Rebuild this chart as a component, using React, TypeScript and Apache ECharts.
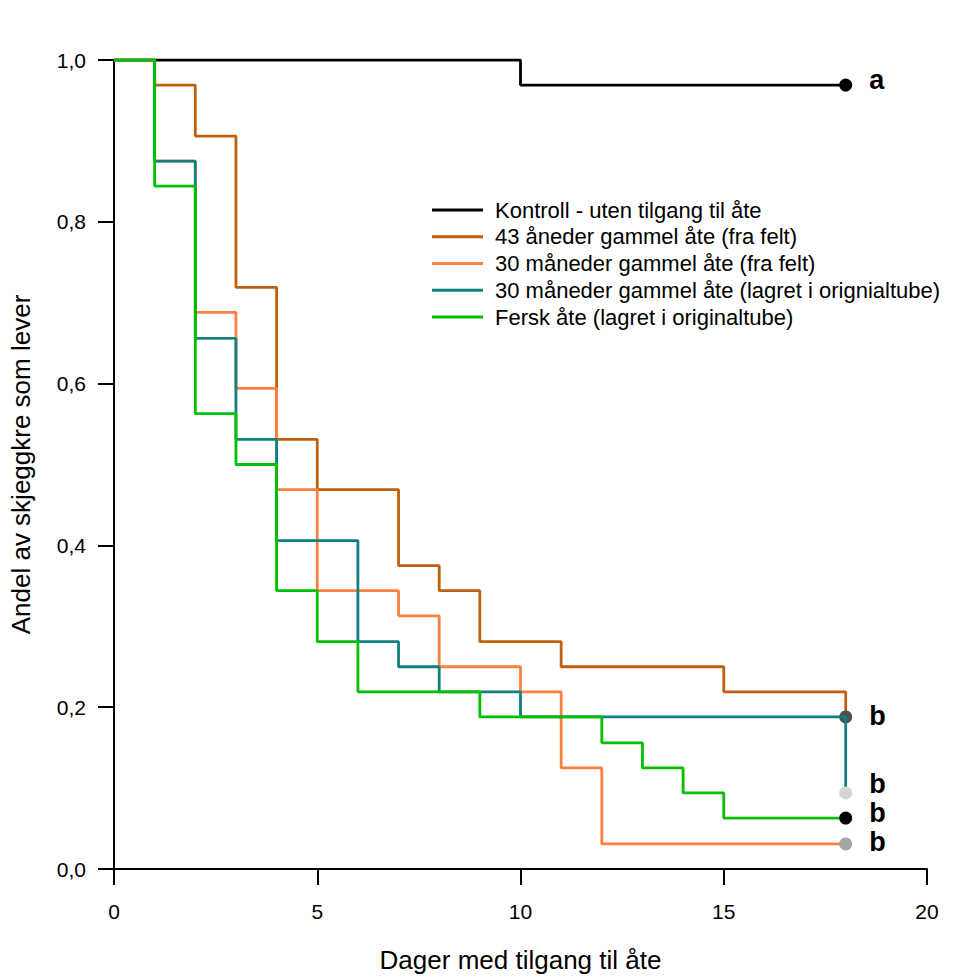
import React, { useEffect, useRef } from "react";
import * as echarts from "echarts";

// ---- data ----
const seriesNames = [
  "Kontroll - uten tilgang til åte",
  "43 åneder gammel åte (fra felt)",
  "30 måneder gammel åte (fra felt)",
  "30 måneder gammel åte (lagret i orignialtube)",
  "Fersk åte (lagret i originaltube)",
];

const controlDays = [0, 10, 18];
const controlSurv = [1.0, 0.969, 0.969];

const field43Days = [0, 1, 2, 3, 4, 5, 7, 8, 9, 11, 15, 18];
const field43Surv = [1.0, 0.969, 0.906, 0.719, 0.531, 0.469, 0.375, 0.344, 0.281, 0.25, 0.219, 0.188];

const field30Days = [0, 1, 2, 3, 4, 5, 7, 8, 10, 11, 12, 18];
const field30Surv = [1.0, 0.875, 0.688, 0.594, 0.469, 0.344, 0.313, 0.25, 0.219, 0.125, 0.031, 0.031];

const tube30Days = [0, 1, 2, 3, 4, 6, 7, 8, 10, 18];
const tube30Surv = [1.0, 0.875, 0.656, 0.531, 0.406, 0.281, 0.25, 0.219, 0.188, 0.094];

const freshDays = [0, 1, 2, 3, 4, 5, 6, 9, 12, 13, 14, 15, 18];
const freshSurv = [1.0, 0.844, 0.563, 0.5, 0.344, 0.281, 0.219, 0.188, 0.156, 0.125, 0.094, 0.063, 0.063];

const groupLetters = ["a", "b", "b", "b", "b"];

const xTickLabels = ["0", "5", "10", "15", "20"];
const yTickLabels = ["0,0", "0,2", "0,4", "0,6", "0,8", "1,0"];

const xTitle = "Dager med tilgang til åte";
const yTitle = "Andel av skjeggkre som lever";

// ---- styles ----
const lineColors = ["#000000", "#C0600C", "#FF8040", "#0F8080", "#00C000"];
const dotColors = ["#000000", "#505050", "#A6A6A6", "#D6D6D6", "#000000"];
const labelShift = [-5, -1, -2, -9, -5];

export default function App() {
  const ref = useRef<HTMLDivElement>(null);

  useEffect(() => {
    if (!ref.current) return;
    const chart = echarts.init(ref.current, null, { renderer: "svg" });
    const font = "'Liberation Sans', Arial, sans-serif";

    const groups = [
      { days: controlDays, surv: controlSurv },
      { days: field43Days, surv: field43Surv },
      { days: field30Days, surv: field30Surv },
      { days: tube30Days, surv: tube30Surv },
      { days: freshDays, surv: freshSurv },
    ];

    const series: any[] = [];
    groups.forEach((g, i) => {
      series.push({
        type: "line",
        name: seriesNames[i],
        step: "end",
        symbol: "none",
        showSymbol: false,
        z: 2 + i * 2,
        data: g.days.map((d, j) => [d, g.surv[j]]),
        lineStyle: { color: lineColors[i], width: 2.8 },
        itemStyle: { color: lineColors[i] },
        emphasis: { disabled: true },
        silent: true,
      });
      const last = g.days.length - 1;
      series.push({
        type: "scatter",
        name: "end-" + i,
        symbol: "circle",
        symbolSize: 13,
        z: 3 + i * 2,
        data: [[g.days[last], g.surv[last]]],
        itemStyle: { color: dotColors[i], opacity: 1 },
        label: {
          show: true,
          position: "right",
          distance: 17,
          formatter: groupLetters[i],
          fontSize: 27,
          lineHeight: 22,
          fontWeight: "bold",
          color: "#000000",
          opacity: 1,
          fontFamily: font,
          offset: [0, labelShift[i]],
        },
        emphasis: { disabled: true },
        silent: true,
      });
    });

    chart.setOption({
      animation: false,
      backgroundColor: "#ffffff",
      textStyle: { fontFamily: font, color: "#000" },
      grid: { left: 113, top: 60, right: 43, bottom: 108, containLabel: false },
      legend: {
        data: seriesNames,
        orient: "vertical",
        left: 432,
        top: 199,
        padding: 0,
        icon: "rect",
        itemWidth: 51,
        itemHeight: 3,
        itemGap: 4.75,
        selectedMode: false,
        textStyle: {
          fontSize: 22,
          lineHeight: 22,
          color: "#000",
          fontFamily: font,
          padding: [0, 0, 0, 7],
        },
      },
      xAxis: {
        type: "value",
        min: 0,
        max: 20,
        interval: 5,
        name: xTitle,
        nameLocation: "middle",
        nameGap: 78,
        nameTextStyle: { fontSize: 26, color: "#000", fontFamily: font },
        axisLine: { show: true, onZero: false, lineStyle: { color: "#000", width: 2 } },
        axisTick: { show: true, length: 16, lineStyle: { color: "#000", width: 2 } },
        axisLabel: {
          fontSize: 21,
          color: "#000",
          margin: 32,
          formatter: (v: number) => xTickLabels[Math.round(v / 5)] ?? "",
        },
        splitLine: { show: false },
      },
      yAxis: {
        type: "value",
        min: 0,
        max: 1,
        interval: 0.2,
        name: yTitle,
        nameLocation: "middle",
        nameGap: 80,
        nameTextStyle: { fontSize: 26, color: "#000", fontFamily: font },
        axisLine: { show: true, onZero: false, lineStyle: { color: "#000", width: 2 } },
        axisTick: { show: true, length: 16, lineStyle: { color: "#000", width: 2 } },
        axisLabel: {
          fontSize: 21,
          color: "#000",
          margin: 28,
          formatter: (v: number) => yTickLabels[Math.round(v / 0.2)] ?? "",
        },
        splitLine: { show: false },
      },
      series,
    });

    return () => chart.dispose();
  }, []);

  return (
    <div
      ref={ref}
      style={{ position: "absolute", left: 0, top: 0, width: 970, height: 978, background: "#fff" }}
    />
  );
}
